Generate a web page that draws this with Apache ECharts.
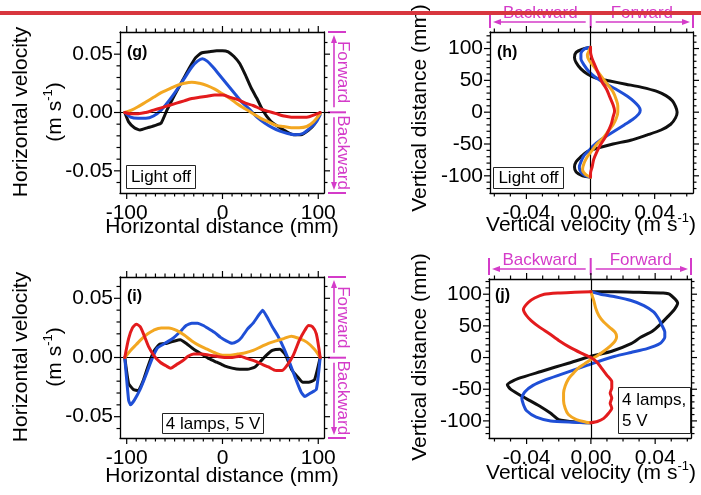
<!DOCTYPE html>
<html><head><meta charset="utf-8">
<script src="https://cdn.jsdelivr.net/npm/echarts@6/dist/echarts.min.js"></script>
<style>html,body{margin:0;padding:0;background:#fff}#c{width:701px;height:495px}</style>
</head><body><div id="c"></div>
<script>
// ---------- DATA ----------
// Panel (g): light off, horizontal velocity vs horizontal distance  [mm, m/s]
const gBlack  = [[-102,0],[-98,-0.008],[-92,-0.013],[-86,-0.015],[-78,-0.013],[-70,-0.011],[-64,-0.009],[-58,0.002],[-50,0.015],[-42,0.027],[-34,0.039],[-28,0.047],[-22,0.051],[-14,0.052],[-6,0.053],[0,0.053],[6,0.052],[12,0.048],[18,0.042],[24,0.032],[30,0.021],[36,0.012],[42,0.002],[50,-0.007],[58,-0.012],[66,-0.016],[74,-0.019],[82,-0.019],[90,-0.015],[96,-0.010],[102,0]];
const gBlue   = [[-102,0],[-96,-0.004],[-88,-0.005],[-80,-0.005],[-72,-0.003],[-64,0.002],[-56,0.010],[-48,0.019],[-40,0.029],[-32,0.039],[-26,0.044],[-21,0.046],[-16,0.044],[-10,0.039],[-4,0.033],[2,0.027],[8,0.021],[14,0.015],[20,0.009],[28,0.003],[36,-0.004],[44,-0.009],[52,-0.013],[60,-0.016],[68,-0.018],[76,-0.019],[84,-0.018],[92,-0.013],[98,-0.008],[102,-0.002]];
const gOrange = [[-102,0],[-95,0.002],[-88,0.005],[-80,0.009],[-72,0.013],[-64,0.017],[-56,0.020],[-48,0.023],[-40,0.025],[-32,0.026],[-24,0.025],[-16,0.023],[-8,0.020],[0,0.016],[8,0.012],[16,0.007],[24,0.003],[32,-0.001],[40,-0.005],[48,-0.008],[56,-0.011],[64,-0.012],[72,-0.013],[80,-0.013],[88,-0.012],[95,-0.008],[102,-0.001]];
const gRed    = [[-102,0],[-96,-0.001],[-88,-0.001],[-80,0.000],[-72,0.002],[-64,0.004],[-56,0.006],[-48,0.008],[-40,0.010],[-32,0.012],[-24,0.013],[-16,0.014],[-8,0.015],[0,0.015],[8,0.013],[16,0.011],[24,0.008],[32,0.006],[40,0.003],[48,0.001],[56,-0.001],[64,-0.003],[72,-0.004],[80,-0.004],[88,-0.004],[96,-0.002],[102,0]];

// Panel (h): light off, vertical velocity vs vertical distance  [m/s, mm]
const hBlack  = [[0,102],[-0.005,99],[-0.009,94],[-0.010,86],[-0.009,78],[-0.006,68],[-0.002,60],[0.003,54],[0.012,49],[0.022,44],[0.032,39],[0.041,33],[0.047,26],[0.051,18],[0.053,9],[0.054,0],[0.053,-9],[0.050,-19],[0.044,-28],[0.035,-36],[0.025,-44],[0.014,-50],[0.005,-56],[-0.002,-62],[-0.006,-70],[-0.009,-78],[-0.010,-86],[-0.009,-94],[-0.005,-100],[0,-102]];
const hBlue   = [[0,102],[-0.004,99],[-0.006,92],[-0.006,84],[-0.004,74],[-0.001,64],[0.003,55],[0.008,47],[0.013,40],[0.018,33],[0.023,25],[0.027,17],[0.030,9],[0.031,3],[0.030,-3],[0.026,-12],[0.021,-20],[0.016,-28],[0.011,-36],[0.006,-44],[0.002,-52],[-0.001,-60],[-0.004,-68],[-0.006,-78],[-0.007,-86],[-0.006,-94],[-0.003,-100],[0,-102]];
const hOrange = [[0,102],[-0.001,96],[-0.002,90],[-0.001,82],[0.002,72],[0.005,62],[0.008,52],[0.011,42],[0.014,32],[0.016,20],[0.017,10],[0.017,0],[0.016,-10],[0.014,-20],[0.011,-30],[0.008,-40],[0.004,-50],[0.001,-60],[-0.002,-70],[-0.004,-80],[-0.005,-90],[-0.003,-98],[0,-102]];
const hRed    = [[0,102],[0,94],[0.001,84],[0.003,72],[0.005,60],[0.007,48],[0.010,36],[0.012,24],[0.014,12],[0.015,2],[0.014,-8],[0.013,-18],[0.011,-30],[0.009,-40],[0.006,-52],[0.004,-62],[0.002,-74],[0.001,-86],[0,-96],[0,-102]];

// Panel (i): 4 lamps, 5 V, horizontal velocity vs horizontal distance
const iBlack  = [[-102,0],[-98,-0.022],[-93,-0.027],[-88,-0.028],[-83,-0.020],[-78,-0.008],[-72,0.005],[-66,0.011],[-58,0.012],[-50,0.014],[-44,0.015],[-38,0.012],[-30,0.007],[-22,0.003],[-14,-0.001],[-6,-0.004],[2,-0.007],[10,-0.009],[18,-0.010],[26,-0.010],[34,-0.008],[40,-0.003],[46,0.002],[52,0.006],[60,0.007],[66,0.002],[72,-0.010],[78,-0.016],[84,-0.021],[90,-0.021],[96,-0.019],[102,0]];
const iBlue   = [[-102,0],[-98,-0.036],[-96,-0.040],[-92,-0.036],[-86,-0.027],[-80,-0.015],[-74,-0.002],[-68,0.008],[-60,0.012],[-52,0.016],[-44,0.022],[-38,0.027],[-32,0.029],[-26,0.029],[-20,0.027],[-14,0.024],[-8,0.021],[-2,0.017],[4,0.014],[10,0.012],[16,0.014],[20,0.017],[26,0.024],[32,0.029],[38,0.036],[42,0.040],[46,0.035],[52,0.026],[58,0.018],[64,0.008],[70,-0.004],[76,-0.017],[82,-0.029],[86,-0.033],[92,-0.030],[98,-0.027],[102,0]];
const iOrange = [[-102,0],[-96,0.006],[-90,0.011],[-84,0.016],[-78,0.020],[-72,0.023],[-64,0.025],[-56,0.025],[-48,0.023],[-40,0.019],[-32,0.014],[-24,0.010],[-16,0.007],[-8,0.004],[0,0.002],[8,0.002],[16,0.003],[24,0.004],[32,0.006],[40,0.009],[48,0.012],[56,0.014],[64,0.016],[72,0.018],[80,0.016],[88,0.013],[96,0.007],[102,0]];
const iRed    = [[-102,0],[-98,0.016],[-94,0.025],[-90,0.028],[-86,0.026],[-82,0.019],[-77,0.009],[-71,0.001],[-65,-0.004],[-59,-0.007],[-54,-0.009],[-48,-0.006],[-42,-0.003],[-36,0.001],[-30,0.003],[-22,0.003],[-14,0.002],[-6,0.001],[2,0.000],[10,0.000],[18,0.001],[26,-0.001],[34,-0.003],[42,-0.006],[48,-0.008],[56,-0.011],[62,-0.011],[68,-0.006],[74,0.002],[80,0.014],[86,0.023],[90,0.027],[94,0.026],[98,0.020],[102,0]];

// Panel (j): 4 lamps, 5 V, vertical velocity vs vertical distance
const jBlack  = [[0,104],[0.015,104],[0.030,103],[0.045,102],[0.049,100],[0.054,86],[0.052,76],[0.048,65],[0.043,52],[0.038,41],[0.031,32],[0.025,22],[0.013,10],[0,2],[-0.014,-9],[-0.022,-15],[-0.031,-22],[-0.045,-33],[-0.052,-43],[-0.050,-50],[-0.045,-58],[-0.038,-68],[-0.031,-78],[-0.025,-88],[-0.020,-98],[-0.008,-102],[0,-103]];
const jBlue   = [[0,104],[0.006,100],[0.015,96],[0.025,90],[0.033,82],[0.039,72],[0.042,62],[0.044,52],[0.046,40],[0.046,32],[0.043,22],[0.035,14],[0.025,8],[0.015,2],[0.006,-5],[-0.002,-12],[-0.010,-19],[-0.019,-27],[-0.028,-35],[-0.036,-44],[-0.041,-54],[-0.043,-64],[-0.042,-74],[-0.040,-84],[-0.034,-94],[-0.025,-100],[-0.012,-102],[0,-103]];
const jOrange = [[0,104],[0.001,96],[0.002,88],[0.003,78],[0.005,66],[0.008,56],[0.012,47],[0.015,40],[0.016,33],[0.015,26],[0.012,18],[0.008,10],[0.004,3],[0.000,-3],[-0.004,-10],[-0.008,-17],[-0.011,-25],[-0.014,-34],[-0.016,-45],[-0.017,-56],[-0.017,-68],[-0.016,-80],[-0.014,-90],[-0.009,-98],[-0.003,-102],[0,-103]];
const jRed    = [[0,104],[-0.010,103],[-0.020,102],[-0.029,100],[-0.035,94],[-0.039,87],[-0.042,76],[-0.040,66],[-0.037,58],[-0.032,48],[-0.026,38],[-0.020,27],[-0.013,16],[-0.006,7],[0.000,0],[0.004,-8],[0.007,-18],[0.010,-28],[0.013,-38],[0.013,-48],[0.012,-56],[0.013,-64],[0.012,-72],[0.013,-80],[0.011,-88],[0.008,-96],[0.004,-101],[0,-103]];

// Tick values
const distMajor = [-100, 0, 100];
const distMinor = [-100,-90,-80,-70,-60,-50,-40,-30,-20,-10,0,10,20,30,40,50,60,70,80,90,100];
const hvelMajor = [-0.05, 0, 0.05];
const hvelMinor = [-0.06,-0.05,-0.04,-0.03,-0.02,-0.01,0,0.01,0.02,0.03,0.04,0.05,0.06];
const vvelMajor = [-0.04, 0, 0.04];
const vvelMinor = [-0.06,-0.05,-0.04,-0.03,-0.02,-0.01,0,0.01,0.02,0.03,0.04,0.05,0.06];
const vdistMajor = [-100,-50,0,50,100];
const vdistMinor = [-120,-110,-100,-90,-80,-70,-60,-50,-40,-30,-20,-10,0,10,20,30,40,50,60,70,80,90,100,110,120];

// Texts
const panelLetters = ['(g)','(h)','(i)','(j)'];
const conditionLabels = ['Light off','Light off','4 lamps, 5 V','4 lamps,\n5 V'];

// ---------- CHART ----------
const FONT = '"Liberation Sans", Arial, sans-serif';
const COL = {black:'#101010', blue:'#1f4fd6', orange:'#f3a721', red:'#e31b1d'};
const MAG = '#d43bc9';
const LINESTYLE = {color:'#000', width:1.3};

const panels = [
  {left:120, top:32, width:204, height:161, x:[-107,106],       y:[-0.069,0.069], xMaj:distMajor, xMin:distMinor, yMaj:hvelMajor, yMin:hvelMinor, xf:v=>String(v), yf:v=>v.toFixed(2), zero:'y'},
  {left:490, top:32, width:203, height:161, x:[-0.0627,0.0639], y:[-127,126],     xMaj:vvelMajor, xMin:vvelMinor, yMaj:vdistMajor, yMin:vdistMinor, xf:v=>v.toFixed(2), yf:v=>String(v), zero:'x'},
  {left:120, top:277, width:204, height:161, x:[-107,106],      y:[-0.068,0.068], xMaj:distMajor, xMin:distMinor, yMaj:hvelMajor, yMin:hvelMinor, xf:v=>String(v), yf:v=>v.toFixed(2), zero:'y'},
  {left:489, top:279, width:202, height:159, x:[-0.0634,0.0623], y:[-127,124],    xMaj:vvelMajor, xMin:vvelMinor, yMaj:vdistMajor, yMin:vdistMinor, xf:v=>v.toFixed(2), yf:v=>String(v), zero:'x'}
];

const grids = [], xAxes = [], yAxes = [], series = [];
const labelStyle = {color:'#000', fontSize:21, fontFamily:FONT};

panels.forEach((p, k) => {
  grids.push({left:p.left, top:p.top, width:p.width, height:p.height, show:false});
  const base = (pos, min, max) => ({type:'value', gridIndex:k, position:pos, min, max,
     axisLine:{show:true, onZero:false, lineStyle:LINESTYLE}, splitLine:{show:false}, axisTick:{show:false}});
  xAxes.push(Object.assign(base('bottom', p.x[0], p.x[1]), {
     axisLabel:Object.assign({show:true, customValues:p.xMaj, formatter:p.xf, margin:10}, labelStyle)}));
  xAxes.push(Object.assign(base('top', p.x[0], p.x[1]), {axisLabel:{show:false}}));
  yAxes.push(Object.assign(base('left', p.y[0], p.y[1]), {
     axisLabel:Object.assign({show:true, customValues:p.yMaj, formatter:p.yf, margin:7}, labelStyle)}));
  yAxes.push(Object.assign(base('right', p.y[0], p.y[1]), {axisLabel:{show:false}}));
});

const panelData = [
  [gBlack, gBlue, gOrange, gRed],
  [hBlack, hBlue, hOrange, hRed],
  [iBlack, iBlue, iOrange, iRed],
  [jBlack, jBlue, jOrange, jRed]
];
const colors = [COL.black, COL.blue, COL.orange, COL.red];
const smooths = [[0.15,0.25,0.35,0.35],[0.3,0.25,0.3,0.3],[0.15,0.15,0.3,0.25],[0.2,0.2,0.3,0.2]];

panelData.forEach((sets, k) => {
  const p = panels[k];
  series.push({type:'line', xAxisIndex:2*k, yAxisIndex:2*k, data:[], symbol:'none', z:1, silent:true,
    markLine:{silent:true, symbol:['none','none'], label:{show:false}, animation:false,
      lineStyle:{color:'#000', width:1.2, type:'solid'},
      data:[p.zero === 'y' ? {yAxis:0} : {xAxis:0}]}});
  sets.forEach((d, s) => {
    series.push({type:'line', xAxisIndex:2*k, yAxisIndex:2*k, data:d, symbol:'none', showSymbol:false,
      smooth:smooths[k][s], z:3+s, silent:true, lineStyle:{color:colors[s], width:3, cap:'round', join:'round'}});
  });
});

// ---------- TEXT / ANNOTATION GRAPHICS ----------
const G = [];
const T = (x, y, text, o) => G.push(Object.assign({type:'text', x, y, z:100, silent:true,
   style:Object.assign({text, fill:'#000', fontSize:21, fontFamily:FONT, align:'center', verticalAlign:'middle'}, (o||{}).style||{})}, (o||{}).el||{}));
const R90 = Math.PI/2;
const supRich = {a:{fontSize:21, fontFamily:FONT, lineHeight:27, fill:'#000', color:'#000'},
                 s:{fontSize:13, fontFamily:FONT, lineHeight:13, verticalAlign:'top', fill:'#000', color:'#000'}};

T(222, 227, 'Horizontal distance (mm)');
T(222, 476, 'Horizontal distance (mm)');
T(21, 112, 'Horizontal velocity', {el:{rotation:R90}});
T(55, 112, '{a|(m s}{s|-1}{a|)}', {el:{rotation:R90}, style:{rich:supRich}});
T(21, 357, 'Horizontal velocity', {el:{rotation:R90}});
T(55, 357, '{a|(m s}{s|-1}{a|)}', {el:{rotation:R90}, style:{rich:supRich}});
T(420, 108, 'Vertical distance (mm)', {el:{rotation:R90}});
T(420, 357, 'Vertical distance (mm)', {el:{rotation:R90}});
T(591, 225, '{a|Vertical velocity (m s}{s|-1}{a|)}', {style:{rich:supRich}});
T(591, 473, '{a|Vertical velocity (m s}{s|-1}{a|)}', {style:{rich:supRich}});

const letterPos = [[127,53],[497,53],[127,297],[495,296]];
panelLetters.forEach((t, k) => T(letterPos[k][0], letterPos[k][1], t, {style:{fontSize:16, fontWeight:'bold', align:'left'}}));

const boxes = [[126,165,69,23],[493,167,70,21],[162,413,101,20],[618,387,72,46]];
boxes.forEach((b, k) => {
  G.push({type:'rect', z:99, silent:true, shape:{x:b[0]+0.5, y:b[1]+0.5, width:b[2], height:b[3]}, style:{fill:'#fff', stroke:'#222', lineWidth:1}});
  if (k < 3) T(b[0]+b[2]/2+0.5, b[1]+b[3]/2+1, conditionLabels[k], {style:{fontSize:17}});
  else T(b[0]+4, b[1]+b[3]/2+1, conditionLabels[k], {style:{fontSize:17, align:'left', lineHeight:21}});
});

const L = (x1,y1,x2,y2,w,c) => G.push({type:'line', z:100, silent:true, shape:{x1,y1,x2,y2}, style:{stroke:c||MAG, lineWidth:w||1.6}});
const P = (pts) => G.push({type:'polygon', z:100, silent:true, shape:{points:pts}, style:{fill:MAG}});
function vAnnot(R, Tp, Z, B) {
  [Tp, Z, B].forEach(y => L(R+4, y, R+22, y, 2));
  const ax = R + 10;
  L(ax, Tp+9, ax, Z-5); P([[ax, Tp+3],[ax-3, Tp+11],[ax+3, Tp+11]]);
  L(ax, Z+5, ax, B-9);  P([[ax, B-3],[ax-3, B-11],[ax+3, B-11]]);
  T(R+19, (Tp+Z)/2, 'Forward', {el:{rotation:-R90}, style:{fill:MAG, fontSize:17}});
  T(R+19, (Z+B)/2, 'Backward', {el:{rotation:-R90}, style:{fill:MAG, fontSize:17}});
}
function hAnnot(Lf, X0, R, Tp) {
  [Lf, X0, R].forEach(x => L(x, Tp-21, x, Tp-4, 2));
  const ay = Tp - 10;
  L(Lf+9, ay, X0-5, ay); P([[Lf+3, ay],[Lf+11, ay-3],[Lf+11, ay+3]]);
  L(X0+5, ay, R-9, ay);  P([[R-3, ay],[R-11, ay-3],[R-11, ay+3]]);
  T((Lf+X0)/2, Tp-19, 'Backward', {style:{fill:MAG, fontSize:17}});
  T((X0+R)/2, Tp-19, 'Forward', {style:{fill:MAG, fontSize:17}});
}
vAnnot(324, 32, 112.3, 193);
vAnnot(324, 277, 357.7, 438);
hAnnot(490, 590.7, 693, 32);
hAnnot(489, 590.7, 691, 279);

// mirrored outward tick marks along each panel frame (same linear mapping as the value axes)
panels.forEach(p => {
  const px = v => p.left + (v - p.x[0]) / (p.x[1] - p.x[0]) * p.width;
  const py = v => p.top + (p.y[1] - v) / (p.y[1] - p.y[0]) * p.height;
  const bottom = p.top + p.height, right = p.left + p.width;
  p.xMin.forEach(v => {
    const len = p.xMaj.indexOf(v) >= 0 ? 6 : 3.5;
    const x = px(v);
    L(x, bottom, x, bottom + len, 1.2, '#000');
    L(x, p.top, x, p.top - len, 1.2, '#000');
  });
  p.yMin.forEach(v => {
    const len = p.yMaj.indexOf(v) >= 0 ? 6 : 3.5;
    const y = py(v);
    L(p.left, y, p.left - len, y, 1.2, '#000');
    L(right, y, right + len, y, 1.2, '#000');
  });
});

G.push({type:'rect', z:200, silent:true, shape:{x:0, y:11, width:701, height:4}, style:{fill:'#d8363e'}});

const chart = echarts.init(document.getElementById('c'), null, {renderer:'canvas'});
chart.setOption({
  animation:false,
  backgroundColor:'#fff',
  grid:grids, xAxis:xAxes, yAxis:yAxes, series,
  graphic:{elements:G}
});
</script></body></html>
